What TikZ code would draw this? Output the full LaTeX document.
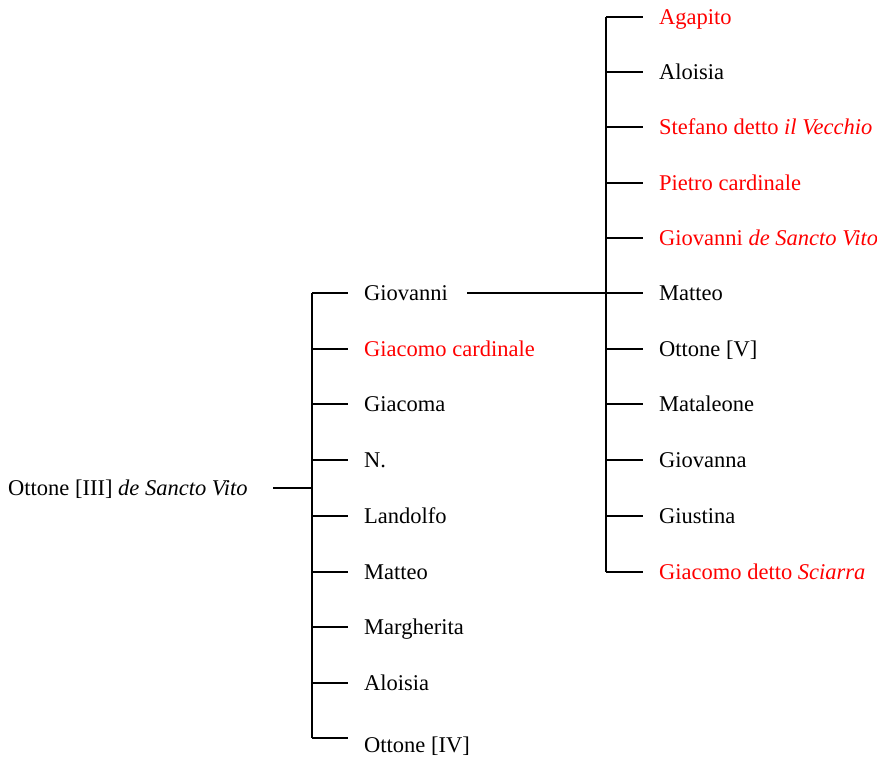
\documentclass[tikz,border=0pt]{standalone}
\usepackage{fontspec}
\setmainfont{Liberation Serif}
\begin{document}
\begin{tikzpicture}[x=1pt,y=-1pt,
  lbl/.style={anchor=mid west,inner sep=0pt,yshift=-5.5pt,font=\fontsize{22.5}{26}\selectfont},
  hl/.style={lbl,text=red},
  ln/.style={line width=1.8pt}]
\useasboundingbox (0,0) rectangle (877,759);
% root
\node[lbl] (root) at (8,488) {Ottone [III] \textit{de Sancto Vito}};
\coordinate (rootend) at (273,488);
\coordinate (busA) at (312,488);
\coordinate (busAtop) at (312,293);
\coordinate (busAbot) at (312,738);
% left children
\node[lbl] (a1) at (364,293) {Giovanni};
\node[hl]  (a2) at (364,349) {Giacomo cardinale};
\node[lbl] (a3) at (364,404) {Giacoma};
\node[lbl] (a4) at (364,460) {N.};
\node[lbl] (a5) at (364,516) {Landolfo};
\node[lbl] (a6) at (364,572) {Matteo};
\node[lbl] (a7) at (364,627) {Margherita};
\node[lbl] (a8) at (364,683) {Aloisia};
\node[lbl] (a9) at (364,745) {Ottone [IV]};
\draw[ln] (rootend) -- (busA);
\draw[ln] (busAtop) -- (busAbot);
\foreach \y in {293,349,404,460,516,572,627,683,738}
  \draw[ln] (312,\y) -- (348,\y);
% Giovanni's children
\coordinate (gstart) at (467,293);
\coordinate (busB) at (606,293);
\coordinate (busBtop) at (606,17);
\coordinate (busBbot) at (606,572);
\draw[ln] (gstart) -- (busB);
\draw[ln] (busBtop) -- (busBbot);
\node[hl]  (b1) at (659,17) {Agapito};
\node[lbl] (b2) at (659,72) {Aloisia};
\node[hl]  (b3) at (659,127) {Stefano detto \textit{il Vecchio}};
\node[hl]  (b4) at (659,183) {Pietro cardinale};
\node[hl]  (b5) at (659,238) {Giovanni \textit{de Sancto Vito}};
\node[lbl] (b6) at (659,293) {Matteo};
\node[lbl] (b7) at (659,349) {Ottone [V]};
\node[lbl] (b8) at (659,404) {Mataleone};
\node[lbl] (b9) at (659,460) {Giovanna};
\node[lbl] (b10) at (659,516) {Giustina};
\node[hl]  (b11) at (659,572) {Giacomo detto \textit{Sciarra}};
\foreach \y in {17,72,127,183,238,293,349,404,460,516,572}
  \draw[ln] (606,\y) -- (643,\y);
\end{tikzpicture}
\end{document}
